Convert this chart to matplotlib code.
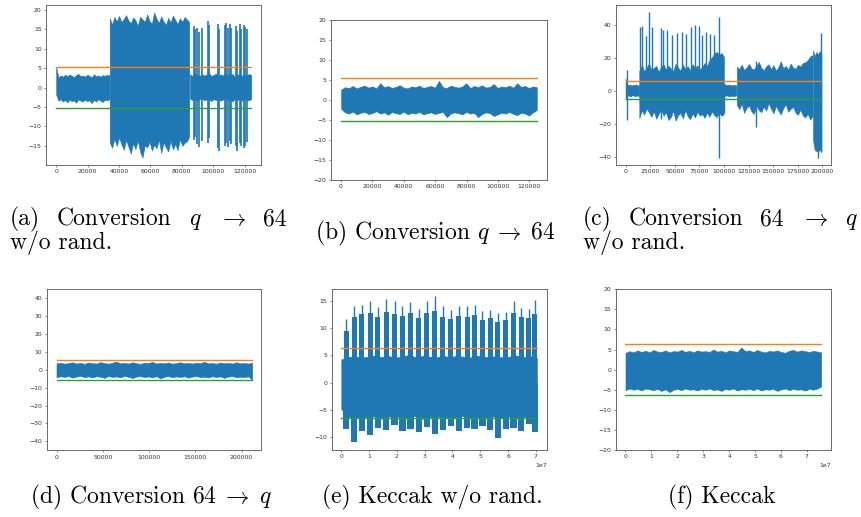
import numpy as np
import matplotlib.pyplot as plt

plt.rcParams['mathtext.fontset'] = 'cm'

W, H = 861, 517
BLUE, ORANGE, GREEN = '#1f77b4', '#ff7f0e', '#2ca02c'

# ---- (a) Conversion q -> 64 w/o rand. ----
a_len = 124300
a_quiet_hi = [5.3, 2.6, 3.1, 2.8, 3.3, 2.9, 3.4, 3.0, 2.7, 3.2, 3.5, 2.9, 3.1, 2.8, 3.3, 3.0, 2.6, 3.4, 2.9, 3.1, 2.8, 3.2, 3.0, 3.3, 3.1]
a_quiet_lo = [-1.8, -3.4, -3.0, -3.6, -3.2, -3.8, -3.1, -3.5, -3.3, -3.9, -3.0, -3.4, -3.6, -3.1, -3.5, -3.3, -4.0, -3.2, -3.6, -3.0, -3.4, -3.7, -3.1, -3.3, -3.0]
a_loud_hi = [17.8, 16.2, 18.1, 17.0, 18.4, 16.8, 17.6, 18.6, 17.2, 16.5, 18.0, 17.3, 15.8, 18.2, 17.5, 16.9, 18.8, 17.1,
             16.4, 19.3, 17.7, 16.6, 18.3, 17.0, 16.1, 17.9, 16.7, 18.5, 17.4, 16.3, 17.8, 16.9, 18.1, 17.5, 16.8]
a_loud_lo = [-14.0, -15.5, -13.2, -15.0, -12.8, -14.6, -16.0, -13.5, -15.2, -17.0, -14.3, -15.8, -13.6, -16.5, -18.0, -14.8, -15.4, -13.9,
             -16.2, -14.7, -15.6, -13.4, -16.8, -14.1, -15.3, -16.4, -13.7, -15.9, -14.5, -16.1, -13.3, -15.0, -14.2, -13.8, -12.5]
a_tail_hi = [3.4, 3.0, 3.6, 3.2, 2.9, 3.5, 3.1, 3.3, 3.8, 3.0, 3.2, 3.6, 2.9, 3.4, 3.1, 3.7, 3.0, 3.3, 3.5, 2.8, 3.2, 3.6, 3.0, 3.4, 3.1, 3.5, 3.2]
a_tail_lo = [-2.8, -3.2, -2.9, -3.4, -3.0, -2.7, -3.3, -3.1, -2.9, -3.5, -3.0, -3.2, -2.8, -3.4, -3.1, -2.9, -3.3, -3.0, -3.6, -2.9, -3.2, -3.0, -3.4, -2.8, -3.1, -3.3, -3.0]
a_segments = [(0, 33900, a_quiet_hi, a_quiet_lo), (34100, 84800, a_loud_hi, a_loud_lo), (85200, a_len, a_tail_hi, a_tail_lo)]
a_burst_x = [87500, 88300, 90000, 90800, 92700, 96500, 97300, 103000, 103500, 107700, 108500, 109300, 110700, 111300,
             114300, 115000, 117000, 117700, 119800, 120600, 121300]
a_burst_hi = [15.8, 15.0, 15.2, 14.2, 15.4, 17.2, 16.0, 16.2, 15.0, 16.0, 16.5, 15.3, 16.4, 15.2, 15.7, 14.5, 16.3, 15.0, 16.0, 15.6, 15.0]
a_burst_lo = [-13.5, -12.8, -14.5, -15.4, -13.8, -14.2, -13.0, -15.5, -16.3, -15.0, -14.2, -15.2, -13.8, -14.6, -15.0, -16.3, -14.3, -15.0, -15.5, -15.0, -14.0]

# ---- (b) Conversion q -> 64 ----
b_len = 124700
b_hi = [2.6, 3.2, 3.0, 3.5, 2.9, 3.3, 3.6, 3.1, 3.4, 2.9, 4.2, 3.2, 3.5, 3.0, 3.3, 3.7, 3.1, 2.9, 3.4, 3.2, 3.6, 3.0, 3.3, 3.5, 3.1, 4.8,
        3.2, 3.0, 3.6, 3.3, 3.1, 3.4, 4.2, 3.0, 3.5, 3.2, 3.7, 3.1, 3.3, 4.0, 3.0, 3.4, 3.2, 3.6, 3.1, 4.2, 3.3, 3.5, 3.0, 3.4, 3.2]
b_lo = [-2.2, -3.1, -3.4, -2.9, -3.6, -3.2, -3.0, -3.5, -3.3, -2.8, -3.4, -3.1, -3.7, -3.0, -3.3, -3.5, -2.9, -3.6, -3.2, -3.4, -3.0, -3.6,
        -3.3, -3.1, -3.5, -3.2, -3.0, -4.3, -3.4, -3.1, -3.3, -3.6, -3.0, -3.4, -3.2, -4.3, -3.5, -3.1, -3.3, -4.0, -3.6, -3.2, -3.4, -3.0,
        -3.5, -3.8, -3.2, -3.4, -3.9, -3.1, -2.5]

# ---- (c) Conversion 64 -> q w/o rand. ----
c_len = 199000
c_q1_hi = [7.5, 4.0, 3.2, 3.8, 3.0, 3.6, 3.3, 3.9, 3.1, 3.5]
c_q1_lo = [-5.0, -3.2, -2.8, -3.5, -3.0, -2.6, -3.4, -3.1, -2.9, -3.3]
c_l1_hi = [12.0, 15.5, 11.8, 14.2, 16.5, 12.5, 13.8, 15.0, 11.5, 14.6, 16.0, 12.8, 15.2, 13.5, 11.9, 16.3, 14.0, 12.2,
           15.8, 13.1, 14.9, 12.4, 16.1, 13.7, 15.4, 12.9, 14.5, 16.8, 15.0, 18.5, 20.2, 22.5, 23.5, 21.8, 22.8, 20.5]
c_l1_lo = [-16.5, -12.0, -14.5, -10.8, -13.2, -15.8, -12.5, -17.0, -14.0, -11.5, -15.2, -13.0, -17.8, -16.0, -12.2, -18.2, -14.8, -13.5,
           -16.8, -11.8, -15.5, -17.2, -13.8, -16.2, -12.8, -15.0, -14.2, -16.5, -13.2, -15.8, -12.5, -14.8, -16.0, -13.5, -15.2, -14.0]
c_q2_hi = [4.0, 3.3, 3.8, 3.1, 3.6, 3.2]
c_q2_lo = [-3.2, -2.8, -3.5, -3.0, -3.3, -2.9]
c_l2_hi = [14.5, 13.2, 15.8, 12.6, 14.0, 16.2, 13.5, 12.8, 15.1, 17.5, 13.9, 12.4, 14.8, 16.0, 13.0, 15.5, 12.2, 14.3,
           17.8, 13.6, 15.0, 12.9, 16.4, 14.1, 13.3, 15.7, 14.6, 16.8, 17.2, 18.5, 20.8, 21.5]
c_l2_lo = [-8.5, -11.2, -7.8, -13.5, -10.4, -9.0, -12.6, -14.2, -8.8, -11.8, -13.0, -9.6, -12.2, -7.5, -10.9, -13.8, -9.2, -12.0,
           -14.5, -10.6, -8.2, -12.8, -11.0, -9.8, -13.2, -14.6, -11.5, -15.0, -16.2, -14.0, -17.5, -15.5]
c_end_hi = [24.5, 21.0, 23.5, 22.0, 24.0, 22.5]
c_end_lo = [-30.0, -36.0, -36.5, -37.0, -35.5, -37.0]
c_segments = [(0, 13800, c_q1_hi, c_q1_lo), (14000, 100000, c_l1_hi, c_l1_lo), (100500, 112500, c_q2_hi, c_q2_lo),
              (113000, 190000, c_l2_hi, c_l2_lo), (190500, c_len, c_end_hi, c_end_lo)]
c_spike_x = [1000, 14550, 16900, 20600, 23700, 27100, 35900, 38200, 42600, 47400, 51800, 56900, 61900, 66000, 70400,
             74800, 77500, 81600, 86000, 90000, 95100, 94700, 100200, 133000, 196000, 198700]
c_spike_hi = [12.5, 38.5, 39.0, 33.0, 47.5, 38.5, 38.0, 37.0, 37.0, 34.0, 35.0, 35.5, 34.5, 38.5, 40.0,
              39.0, 33.5, 35.5, 34.5, 34.0, 44.5, 10.0, 4.0, 18.0, 20.0, 35.0]
c_spike_lo = [-17.5, -8.0, -10.0, -8.0, -10.0, -8.0, -17.0, -10.0, -10.0, -10.0, -10.0, -10.0, -10.0, -10.0, -10.0,
              -10.0, -10.0, -10.0, -10.0, -10.0, -10.0, -40.5, -13.0, -22.0, -40.5, -37.0]

# ---- (d) Conversion 64 -> q ----
d_len = 211500
d_hi = [3.6, 4.0, 3.4, 3.8, 4.2, 3.5, 3.9, 3.3, 4.1, 3.7, 3.5, 4.3, 3.8, 3.4, 4.0, 4.6, 3.6, 3.9, 3.5, 4.2, 3.7, 3.3, 4.0, 3.8, 4.4,
        3.5, 3.9, 3.6, 4.1, 3.4, 3.8, 4.2, 3.6, 3.9, 3.5, 4.0, 3.7, 4.5, 3.6, 3.8, 3.4, 4.1, 3.7, 3.9, 3.5, 4.2, 3.6, 3.8, 3.5, 3.9]
d_lo = [-4.2, -3.6, -4.0, -3.5, -4.4, -3.8, -3.4, -4.1, -3.7, -4.3, -3.6, -3.9, -4.5, -3.5, -4.0, -3.7, -4.2, -3.4, -3.9, -4.6,
        -3.8, -3.5, -4.1, -3.7, -4.3, -3.6, -4.8, -3.9, -3.5, -4.2, -3.7, -4.0, -3.6, -4.4, -3.8, -3.5, -4.1, -3.9, -4.3, -3.6,
        -4.0, -3.7, -4.5, -3.8, -3.5, -4.2, -3.9, -4.0, -3.7, -5.6]

# ---- (e) Keccak w/o rand. ----
e_len = 7.04e7
e_body_hi = [4.3, 4.7, 4.9, 4.6, 4.8, 5.0, 4.7, 4.9, 4.6, 4.8, 5.1, 4.7, 4.9, 4.8, 4.6, 5.0, 4.7, 4.9, 4.8, 4.6, 5.0, 4.8, 4.7, 4.9, 4.6, 4.8, 5.0, 4.7, 4.9, 4.5]
e_body_lo = [-4.8, -6.2, -6.5, -6.0, -6.4, -6.1, -6.6, -6.2, -6.0, -6.5, -6.3, -6.1, -6.6, -6.2, -6.4, -6.0, -6.5, -6.3, -6.1, -6.4,
             -6.2, -6.6, -6.0, -6.3, -6.5, -6.1, -6.4, -6.2, -6.3, -4.5]
e_burst_x = [1.79e6, 4.67e6, 7.42e6, 1.041e7, 1.316e7, 1.615e7, 1.915e7, 2.202e7, 2.489e7, 2.788e7, 3.075e7, 3.362e7, 3.650e7,
             3.937e7, 4.224e7, 4.523e7, 4.798e7, 5.074e7, 5.361e7, 5.636e7, 5.923e7, 6.198e7, 6.473e7, 6.749e7, 6.964e7]
e_top = [11.7, 14.1, 14.3, 14.9, 13.8, 15.4, 15.0, 14.1, 14.7, 13.5, 14.9, 15.8, 14.0, 13.3, 14.1, 14.0, 14.3, 13.1, 13.3, 12.7, 12.9, 14.9, 13.7, 13.5, 15.2]
e_solid = [9.5, 12.0, 12.5, 12.8, 12.0, 13.0, 12.6, 12.2, 12.8, 11.8, 12.7, 13.2, 12.1, 11.6, 12.3, 12.0, 12.4, 11.5, 11.8, 11.2, 11.4, 12.8, 12.0, 11.8, 12.5]
e_bot = [-8.5, -10.9, -8.8, -9.5, -8.2, -8.6, -7.8, -8.9, -8.4, -9.0, -8.1, -9.3, -8.6, -7.9, -8.8, -8.3, -8.5, -8.0, -8.7, -10.1, -8.4, -8.2, -8.9, -7.6, -9.0]

# ---- (f) Keccak ----
f_len = 7.55e7
f_hi = [4.2, 4.6, 4.3, 4.8, 4.4, 4.7, 4.3, 4.9, 4.5, 4.4, 4.8, 4.3, 4.6, 4.5, 4.9, 4.4, 4.7, 4.3, 4.8, 4.5, 4.6, 4.4, 5.0, 4.5, 4.7,
        4.3, 4.8, 4.6, 4.4, 5.5, 4.6, 4.8, 4.4, 4.9, 4.5, 4.3, 4.7, 4.5, 4.8, 4.4, 4.2, 4.7, 4.9, 4.5, 4.8, 4.6, 4.4, 4.7, 4.5, 4.3]
f_lo = [-5.1, -4.7, -5.0, -4.8, -5.2, -4.7, -4.9, -5.1, -4.8, -5.3, -4.9, -5.6, -5.0, -4.8, -5.1, -4.7, -5.0, -4.9, -5.2, -4.8,
        -5.0, -4.7, -5.1, -4.9, -5.3, -4.8, -5.0, -4.7, -5.2, -4.9, -5.0, -4.8, -5.1, -4.7, -5.2, -4.9, -5.0, -4.8, -5.3, -4.9,
        -4.7, -5.1, -4.8, -5.0, -4.9, -5.2, -4.8, -5.0, -4.7, -4.2]

# thresholds (upper, lower)
thr = {'a': (5.4, -5.3), 'b': (5.4, -5.3), 'c': (5.6, -5.2), 'd': (5.6, -5.5), 'e': (6.4, -6.4), 'f': (6.5, -6.4)}
lens = {'a': a_len, 'b': b_len, 'c': c_len, 'd': d_len, 'e': e_len, 'f': f_len}

fig = plt.figure(figsize=(W / 100, H / 100), dpi=100)


def add_ax(l, t, r, b):
    return fig.add_axes([l / W, 1 - b / H, (r - l) / W, (b - t) / H])


def band(ax, x0, x1, hi, lo):
    xs = np.linspace(x0, x1, len(hi))
    ax.fill_between(xs, lo, hi, color=BLUE, lw=0.4)


def style(ax, key, xlim, ylim, xt, yt):
    up, dn = thr[key]
    ax.plot([0, lens[key]], [up, up], color=ORANGE, lw=1.0)
    ax.plot([0, lens[key]], [dn, dn], color=GREEN, lw=1.0)
    ax.set_xlim(*xlim)
    ax.set_ylim(*ylim)
    ax.set_xticks(xt)
    ax.set_yticks(yt)
    ax.tick_params(labelsize=4.4, length=1.6, width=0.4, pad=1.5, colors='#333333')
    ax.xaxis.get_offset_text().set_fontsize(4.4)
    for s in ax.spines.values():
        s.set_linewidth(0.6)
        s.set_color('#555555')


ax = add_ax(46, 5, 261, 165)
for x0, x1, hi, lo in a_segments:
    band(ax, x0, x1, hi, lo)
ax.vlines(a_burst_x, a_burst_lo, a_burst_hi, color=BLUE, lw=1.2)
style(ax, 'a', (-6500, 130500), (-19.9, 21.2), range(0, 120001, 20000), range(-15, 21, 5))

ax = add_ax(330.7, 20, 546.7, 180)
band(ax, 0, b_len, b_hi, b_lo)
style(ax, 'b', (-6600, 131000), (-20, 20), range(0, 120001, 20000), range(-20, 21, 5))

ax = add_ax(615.7, 5, 831, 165)
for x0, x1, hi, lo in c_segments:
    band(ax, x0, x1, hi, lo)
ax.vlines(c_spike_x, c_spike_lo, c_spike_hi, color=BLUE, lw=1.0)
style(ax, 'c', (-10000, 208700), (-45, 51.9), range(0, 200001, 25000), range(-40, 41, 20))

ax = add_ax(46.7, 289.3, 261, 450.3)
band(ax, 0, d_len, d_hi, d_lo)
style(ax, 'd', (-10600, 221000), (-45, 45), range(0, 200001, 50000), range(-40, 41, 10))

ax = add_ax(331.7, 289.3, 546.7, 450)
band(ax, 0, e_len, e_body_hi, e_body_lo)
ax.bar(e_burst_x, [-b for b in e_bot], bottom=e_bot, width=2.3e6, color=BLUE, lw=0)
ax.bar(e_burst_x, e_solid, width=1.8e6, color=BLUE, lw=0)
ax.vlines(e_burst_x, e_solid, e_top, color=BLUE, lw=1.0)
style(ax, 'e', (-0.345e7, 7.39e7), (-12.3, 17.1), np.arange(0, 7.1e7, 1e7), range(-10, 16, 5))

ax = add_ax(615.7, 289.3, 831, 450)
band(ax, 0, f_len, f_hi, f_lo)
style(ax, 'f', (-0.378e7, 7.93e7), (-20, 20), np.arange(0, 7.1e7, 1e7), range(-20, 21, 5))

# captions
cap = dict(fontfamily='cmr10', fontsize=17, va='baseline', ha='left')
renderer = fig.canvas.get_renderer()


def put(px, py, s):
    return fig.text(px / W, 1 - py / H, s, **cap)


def justify(words, x0, x1, py):
    # spread words over [x0, x1] with equal gaps, like a justified TeX line
    texts = [put(x0, py, w) for w in words]
    widths = [t.get_window_extent(renderer).width for t in texts]
    gap = (x1 - x0 - sum(widths)) / (len(words) - 1)
    x = x0
    for t, w in zip(texts, widths):
        t.set_x(x / W)
        x += w + gap


justify(['(a)', 'Conversion', '$q$', r'$\rightarrow$', '64'], 10, 287, 225)
put(10, 249, 'w/o rand.')
justify(['(c)', 'Conversion', '64', r'$\rightarrow$', '$q$'], 583, 858, 225)
put(583, 249, 'w/o rand.')
put(315, 239, r'(b) Conversion $q \;\rightarrow\; 64$')
put(30, 503, r'(d) Conversion $64 \;\rightarrow\; q$')
put(322, 503, '(e) Keccak w/o rand.')
put(668, 503, '(f) Keccak')

fig.savefig('out.png', dpi=100)
